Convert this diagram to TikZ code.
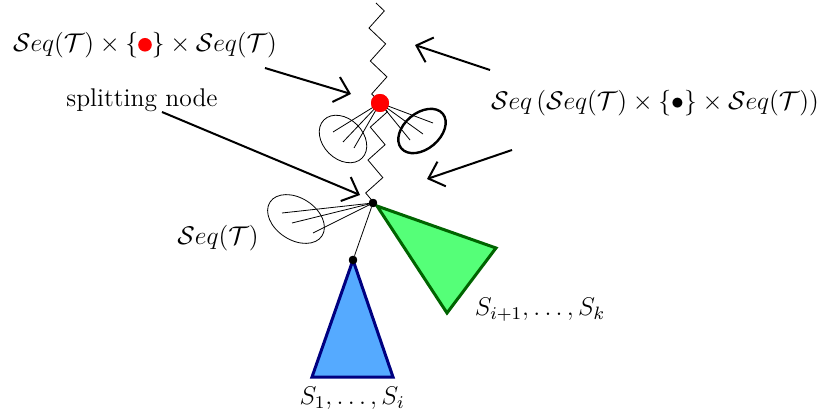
\RequirePackage{fix-cm}
\documentclass[tikz,border=0pt]{standalone}
\usepackage{amsmath,amssymb}
\usepackage{xcolor}
\usetikzlibrary{arrows.meta,decorations.pathmorphing}

\definecolor{treeblue}{RGB}{85,170,255}
\definecolor{treegreen}{RGB}{85,255,120}
\definecolor{darkgreen}{RGB}{0,100,0}

\tikzset{
  spine/.style={thin,decorate,decoration={zigzag,segment length=16.5pt,amplitude=4pt}},
  pointer/.style={line width=1pt,-{Straight Barb[length=7pt,width=13pt]}},
  dot/.style={circle,fill=black,inner sep=0pt,minimum size=4.2pt},
  reddot/.style={circle,fill=red,inner sep=0pt,minimum size=9pt},
  bag/.style={thin},
  lbl/.style={font=\fontsize{12.8}{15.5}\selectfont}
}

\begin{document}
\begin{tikzpicture}[x=0.5pt,y=-0.5pt]
\useasboundingbox (0,0) rectangle (820,417);
% spine nodes
\coordinate (top) at (376,3);
\node[reddot] (pt) at (380,103) {};
\node[dot] (split) at (373,203) {};
\node[dot] (root) at (353,260) {};
\draw[spine] (top) -- (pt.center);
\draw[spine] (pt.center) -- (split.center);
\draw[thin] (split) -- (root);
% sequences hanging on the pointed node
\draw[bag] (343,139) ellipse [x radius=27,y radius=20,rotate=-45];
\draw[line width=1.2pt] (422,131) ellipse [x radius=27,y radius=18,rotate=40];
\foreach \p in {(333,132),(343,142),(354,148),(433,123),(423,134),(410,140)}
  \draw[thin] (pt.center) -- \p;
% sequence at the splitting node
\draw[bag] (296,219) ellipse [x radius=31,y radius=21,rotate=-33];
\foreach \p in {(282,213),(292,223),(313,233)}
  \draw[thin] (split.center) -- \p;
% subtrees
\draw[line width=1.5pt,draw=blue!50!black,fill=treeblue] (root.center) -- (312,377) -- (393,377) -- cycle;
\draw[line width=1.5pt,draw=darkgreen,fill=treegreen] (377,206) -- (496,248) -- (447,313) -- cycle;
\node[reddot] at (pt) {};
\node[dot] at (split) {};
\node[dot] at (root) {};
% labels
\node[lbl] (pair) at (145,45) {$\mathcal{S}eq(\mathcal{T})\times\{\tikz[baseline=-0.6ex]\fill[red] (0,0) circle (3.4pt);\}\times\mathcal{S}eq(\mathcal{T})$};
\node[lbl] (seqs) at (655,103) {$\mathcal{S}eq\left(\mathcal{S}eq(\mathcal{T})\times\{\bullet\}\times\mathcal{S}eq(\mathcal{T})\right)$};
\node[lbl] (splitlbl) at (142,100) {splitting node};
\node[lbl] (seqleft) at (218,238) {$\mathcal{S}eq(\mathcal{T})$};
\node[lbl] (first) at (352,398) {$S_1,\ldots,S_i$};
\node[lbl] (last) at (540,310) {$S_{i+1},\ldots,S_k$};
% pointers
\coordinate (a1) at (265,68);  \coordinate (b1) at (351,94);
\coordinate (a2) at (162,112); \coordinate (b2) at (360,195);
\coordinate (a3) at (490,70);  \coordinate (b3) at (415,45);
\coordinate (a4) at (512,150); \coordinate (b4) at (427,179);
\draw[pointer] (a1) -- (b1);
\draw[pointer] (a2) -- (b2);
\draw[pointer] (a3) -- (b3);
\draw[pointer] (a4) -- (b4);
\end{tikzpicture}
\end{document}
